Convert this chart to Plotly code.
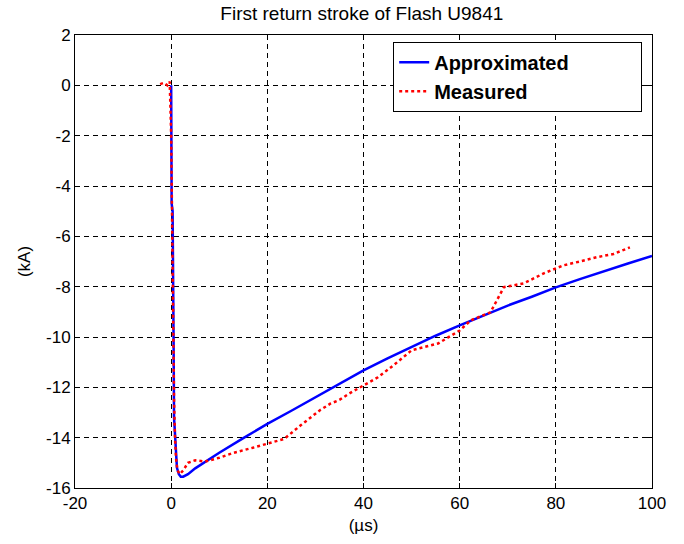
import plotly.graph_objects as go

# Approximated (blue) curve
approx_t = [0.0, 0.05, 0.1, 0.3, 0.35, 0.5, 0.6, 0.9, 1.2, 1.6, 2.0, 2.5, 3.5, 5, 7.5, 10, 15, 20, 25, 30, 35, 40,
            45, 50, 55, 60, 65, 70, 75, 80, 85, 90, 95, 100]
approx_i = [0.0, -2.0, -4.7, -5.0, -9.4, -10.0, -13.2, -14.5, -15.2, -15.45, -15.55, -15.55, -15.45, -15.22, -14.9,
            -14.6, -14.02, -13.45, -12.93, -12.4, -11.85, -11.33, -10.85, -10.4, -9.95, -9.54, -9.15, -8.75,
            -8.4, -8.03, -7.7, -7.38, -7.08, -6.78]

# Measured (red) curve
meas_t = [-2.3, -1.5, -0.8, -0.3, 0.0, 0.2, 0.4, 0.6, 0.8, 1.0, 1.3, 1.8, 2.5, 3.5, 5.0, 7.0, 10.0, 13.0, 17.0,
          21.0, 23.5, 27.0, 31.0, 33.1, 35.0, 37.0, 40.0, 43.0, 46.2, 50.0, 55.5, 60.0, 62.3, 66.4, 69.2, 73.3,
          77.5, 81.6, 85.0, 88.5, 92.0, 95.4]
meas_i = [0.05, 0.1, 0.0, 0.15, -2.0, -6.0, -10.0, -12.5, -14.0, -14.8, -15.3, -15.45, -15.3, -15.0, -14.9,
          -14.95, -14.8, -14.6, -14.4, -14.2, -14.05, -13.5, -12.9, -12.65, -12.5, -12.25, -11.93, -11.6,
          -11.13, -10.53, -10.26, -9.74, -9.34, -9.02, -8.02, -7.87, -7.47, -7.15, -7.0, -6.83, -6.7, -6.44]

series_names = ["Approximated", "Measured"]
x_ticks = [-20, 0, 20, 40, 60, 80, 100]
y_ticks = [-16, -14, -12, -10, -8, -6, -4, -2, 0, 2]

pad = "\u00a0" * 12  # widen the legend box like the original

fig = go.Figure()
fig.add_trace(go.Scatter(x=approx_t, y=approx_i, mode="lines", name=series_names[0] + pad,
                         line=dict(color="#0000ff", width=2.5)))
fig.add_trace(go.Scatter(x=meas_t, y=meas_i, mode="lines", name=series_names[1],
                         line=dict(color="#ff0000", width=2.5, dash="dot")))

font_family = "Liberation Sans, Arial, sans-serif"
axis_common = dict(
    showline=True, linecolor="black", linewidth=1, mirror="ticks",
    ticks="inside", ticklen=5, tickcolor="black",
    showgrid=True, gridcolor="black", gridwidth=1, griddash="5px,4px",
    zeroline=False, tickfont=dict(size=17, color="black", family=font_family),
)

fig.update_layout(
    width=684, height=544,
    margin=dict(l=75, r=32, t=35, b=56),
    paper_bgcolor="white", plot_bgcolor="white",
    title=dict(text="First return stroke of Flash U9841", x=0.529, xanchor="center", y=0.976, yanchor="middle",
               font=dict(size=19, color="black", family=font_family)),
    xaxis=dict(range=[-20, 100], tickvals=x_ticks, ticktext=[str(v) for v in x_ticks],
               title=dict(text="(µs)", standoff=6, font=dict(size=17, color="black", family=font_family)),
               **axis_common),
    yaxis=dict(range=[-16, 2], tickvals=y_ticks, ticktext=[str(v) for v in y_ticks],
               title=dict(text="(kA)", standoff=11, font=dict(size=17, color="black", family=font_family)),
               **axis_common),
    legend=dict(x=0.983, y=0.985, xanchor="right", yanchor="top", bgcolor="white",
                bordercolor="black", borderwidth=1,
                font=dict(size=20, color="black", family=font_family, weight="bold"),
                tracegroupgap=0),
    showlegend=True,
)

fig.write_html("out.html")
